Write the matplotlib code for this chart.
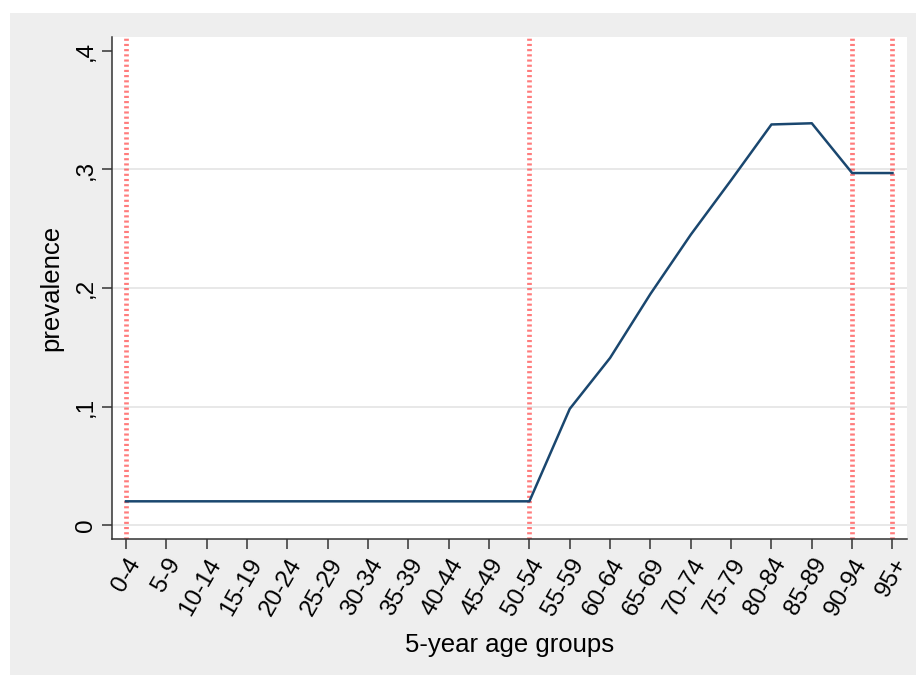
import matplotlib.pyplot as plt
from matplotlib.patches import Rectangle

plt.rcParams['font.family'] = ['Liberation Sans', 'DejaVu Sans']

age_groups = ['0-4', '5-9', '10-14', '15-19', '20-24', '25-29', '30-34', '35-39',
              '40-44', '45-49', '50-54', '55-59', '60-64', '65-69', '70-74',
              '75-79', '80-84', '85-89', '90-94', '95+']
prevalence = [0.02, 0.02, 0.02, 0.02, 0.02, 0.02, 0.02, 0.02, 0.02, 0.02,
              0.02, 0.098, 0.141, 0.195, 0.245, 0.291, 0.338, 0.339, 0.297, 0.297]
marked_groups = ['0-4', '50-54', '90-94', '95+']
y_ticks = [0, 0.1, 0.2, 0.3, 0.4]
y_labels = ['0', ',1', ',2', ',3', ',4']

fig = plt.figure(figsize=(9.16, 6.75), dpi=100, facecolor='white')
fig.patches.append(Rectangle((10 / 916, 0), 1, 1 - 13 / 675, transform=fig.transFigure,
                             facecolor='#EEEEEE', edgecolor='none', zorder=-1))

ax = fig.add_axes([112 / 916, 136 / 675, 795 / 916, 502 / 675])
ax.set_facecolor('white')

x = list(range(len(age_groups)))

# horizontal grid (none on the top tick)
for yv in y_ticks[:-1]:
    ax.axhline(yv, color='#E6E6E6', lw=1.3, zorder=1)

# red dashed markers on selected groups
for g in marked_groups:
    ax.axvline(age_groups.index(g), color='#FF4444', lw=3.4, alpha=0.7,
               dashes=(0.45, 0.65), zorder=2)

ax.plot(x, prevalence, color='#1A476F', lw=1.8, zorder=3)

ax.set_xlim(-0.347, len(age_groups) - 1 + 0.36)
ax.set_ylim(-0.0118, 0.4118)

ax.set_xticks(x)
ax.set_xticklabels(age_groups, rotation=60, ha='right', va='top',
                   rotation_mode='anchor', fontsize=17.5)
ax.set_yticks(y_ticks)
ax.set_yticklabels(y_labels, rotation=90, va='center', fontsize=17.5)

for s in ['top', 'right']:
    ax.spines[s].set_visible(False)
for s in ['left', 'bottom']:
    ax.spines[s].set_color('#333333')
    ax.spines[s].set_linewidth(1.1)
ax.tick_params(axis='both', colors='#333333', length=7, width=1.1, labelcolor='black')
ax.tick_params(axis='x', pad=4)
ax.tick_params(axis='y', pad=4)

ax.set_xlabel('5-year age groups', fontsize=18.5, labelpad=10)
ax.set_ylabel('prevalence', fontsize=18.5, labelpad=8)

fig.savefig('out.png', dpi=100)
